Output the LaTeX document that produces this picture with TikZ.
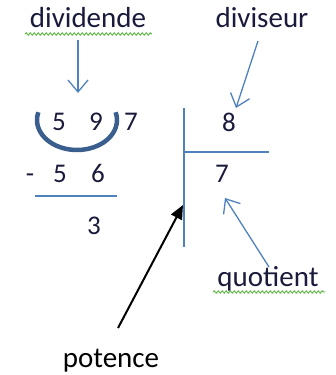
\documentclass[tikz,border=0pt]{standalone}
\usepackage{fontspec}
\setmainfont{Carlito}
\usetikzlibrary{arrows.meta,decorations.pathmorphing}
\definecolor{offblue}{HTML}{4F81BD}
\definecolor{arcblue}{HTML}{3A5F8F}
\definecolor{navytext}{HTML}{1A1A3C}
\definecolor{spellgreen}{HTML}{5DBB46}
\tikzset{
  lbl/.style={font=\fontsize{29}{32}\selectfont, text=navytext, inner sep=0pt, anchor=base},
  digit/.style={font=\fontsize{27}{30}\selectfont, text=navytext, inner sep=0pt, anchor=base},
  bluearrow/.style={draw=offblue, line width=1.3pt, -{Straight Barb[length=12pt,width=20pt,line width=1.3pt]}},
  blackarrow/.style={draw=black, line width=2pt, -{Triangle[length=14pt,width=12pt]}},
  blueline/.style={draw=offblue, line width=1.5pt},
  squiggle/.style={draw=spellgreen, line width=1pt, decorate, decoration={snake, amplitude=1.1pt, segment length=4pt}}
}
\begin{document}
\begin{tikzpicture}[x=1pt,y=1pt]
\useasboundingbox (0,0) rectangle (335,375);
% labels
\node[lbl] (dividende) at (88,347) {dividende};
\node[lbl] (diviseur) at (262,347) {diviseur};
\node[lbl] (quotient) at (268,88) {quotient};
\node[lbl, text=black] (potence) at (111,8) {potence};
% spell-check squiggles
\draw[squiggle] (25,341) -- (152,341);
\draw[squiggle] (213,83) -- (325,83);
% digits
\node[digit] (d5) at (59,244) {5};
\node[digit] (d9) at (96,244) {9};
\node[digit] (d7) at (131,244) {7};
\node[digit] (minus) at (30,192) {-};
\node[digit] (s5) at (60,192) {5};
\node[digit] (s6) at (98,192) {6};
\node[digit] (r3) at (94,140) {3};
\node[digit] (dv8) at (229,243) {8};
\node[digit] (q7) at (222,192) {7};
% ellipse arc around 59
\draw[arcblue, line width=4.5pt] (77,255) ++(165:40 and 30) arc[start angle=165, end angle=375, x radius=40, y radius=30];
% lines
\coordinate (ptop) at (184,267);
\coordinate (pbot) at (184,128);
\coordinate (hend) at (269,223);
\draw[blueline] (ptop) -- (pbot);
\draw[blueline] (ptop |- hend) -- (hend);
\coordinate (ul) at (35,179);
\coordinate (ur) at (117,179);
\draw[blueline] (ul) -- (ur);
% arrows
\coordinate (a1s) at (78,335);
\coordinate (a1e) at (78,282);
\draw[bluearrow] (a1s) -- (a1e);
\coordinate (a2s) at (258,334);
\coordinate (a2e) at (236,267);
\draw[bluearrow] (a2s) -- (a2e);
\coordinate (a3s) at (269,108);
\coordinate (a3e) at (225,177);
\draw[bluearrow] (a3s) -- (a3e);
\coordinate (a4s) at (118,47);
\coordinate (a4e) at (183,170);
\draw[blackarrow] (a4s) -- (a4e);
\end{tikzpicture}
\end{document}
